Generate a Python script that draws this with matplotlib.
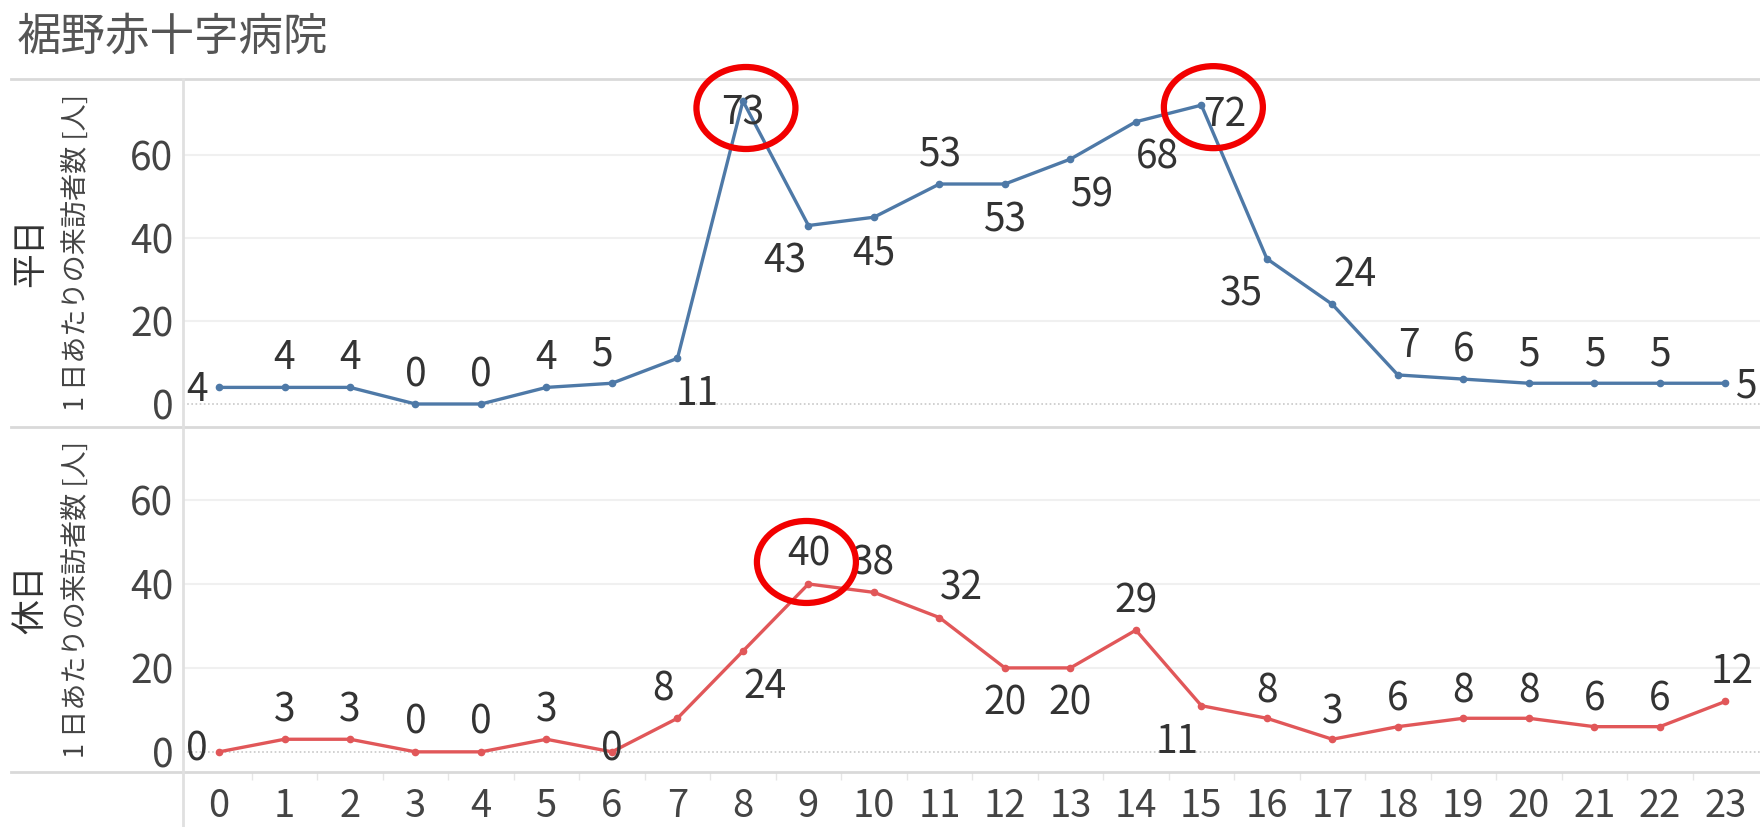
import matplotlib
matplotlib.use('Agg')

import matplotlib.pyplot as plt
from matplotlib.lines import Line2D
from matplotlib.patches import Ellipse
from matplotlib.transforms import IdentityTransform

plt.rcParams['font.family'] = ['Noto Sans CJK JP', 'DejaVu Sans']

# ── Data ─────────────────────────────────────────────────────────────────────
hours    = list(range(24))
weekday  = [4, 4, 4, 0, 0, 4, 5, 11, 73, 43, 45, 53, 53, 59, 68, 72, 35, 24, 7, 6, 5, 5, 5, 5]
holiday  = [0, 3, 3, 0, 0, 3, 0, 8, 24, 40, 38, 32, 20, 20, 29, 11, 8, 3, 6, 8, 8, 6, 6, 12]

title       = '裾野赤十字病院'
row_names   = ['平日', '休日']
axis_title  = '1 日あたりの来訪者数 [人]'
yticks      = [0, 20, 40, 60]

# label offsets in pixels (dx, dy) relative to each point
UP, DOWN = 32, -33
wk_off = [(-22, 0), (0, UP), (0, UP), (0, UP), (0, UP), (0, UP), (-10, UP), (20, DOWN),
          (0, -10), (-24, DOWN), (0, DOWN), (0, UP), (0, DOWN), (21, DOWN), (21, DOWN),
          (23, -7), (-25, DOWN), (23, UP), (11, UP), (0, UP), (0, UP), (0, UP), (0, UP), (20, 0)]
hd_off = [(-22, 5), (0, UP), (0, UP), (0, UP), (0, UP), (0, UP), (0, 5), (-14, UP),
          (22, DOWN), (0, UP), (0, UP), (22, UP), (0, DOWN), (0, DOWN), (0, UP),
          (-24, DOWN), (0, 30), (0, 30), (0, 30), (0, 30), (0, 30), (0, 30), (0, 30), (7, UP)]

# highlighted peaks: (series index, hour, dx, dy) in pixels
highlights = [(0, 8, 3, -7), (0, 15, 12, -2), (1, 9, -2, 22)]

BLUE = '#4e79a7'
RED  = '#e15759'
TXT  = '#333333'
GRID = '#f0f0f0'
SEP  = '#d9d9d9'

W, H = 1760, 827
fig = plt.figure(figsize=(W / 100, H / 100), dpi=100)
fig.patch.set_facecolor('white')

def fx(px):
    return px / W

def fy(py):
    return 1 - py / H

# axes rectangles (pixel coords from the reference)
ax1 = fig.add_axes([fx(183), fy(426), fx(1760 - 183), (426 - 79) / H])
ax2 = fig.add_axes([fx(183), fy(772), fx(1760 - 183), (772 - 427) / H])
axes = [ax1, ax2]
ylims = [(-5.3, 78.3), (-4.8, 77.4)]
series = [weekday, holiday]
colors = [BLUE, RED]
offsets = [wk_off, hd_off]

for i, ax in enumerate(axes):
    ax.set_xlim(-0.55, 23.53)
    ax.set_ylim(*ylims[i])
    for s in ax.spines.values():
        s.set_visible(False)
    ax.set_yticks(yticks)
    for v in yticks[1:]:
        ax.axhline(v, color=GRID, lw=1.5, zorder=0)
    ax.axhline(0, color='#c8c8c8', lw=1.2, ls=(0, (1, 1.5)), zorder=0)
    ax.tick_params(axis='y', length=0, pad=7, labelsize=28, labelcolor='#444444')
    ax.plot(hours, series[i], color=colors[i], lw=2.4, marker='o', ms=4.5,
            zorder=3, solid_joinstyle='round')
    for h, v, (dx, dy) in zip(hours, series[i], offsets[i]):
        ax.annotate(str(v), xy=(h, v), xytext=(dx, dy - 14), textcoords='offset pixels',
                    ha='center', va='baseline', fontsize=28, color=TXT, zorder=4)
    # row header + axis title (x positions in pixels -> axes fraction)
    ax.text((31 - 183) / 1577, 0.5, row_names[i], transform=ax.transAxes, rotation=90,
            ha='center', va='center', fontsize=25, color='#333333')
    ax.text((76 - 183) / 1577, 0.5, axis_title, transform=ax.transAxes, rotation=90,
            ha='center', va='center', fontsize=19.5, color='#444444')

ax1.set_xticks([])
ax2.set_xticks(hours)
ax2.set_xticklabels([str(h) for h in hours])
ax2.tick_params(axis='x', length=0, pad=11, labelsize=27.5, labelcolor='#444444')
ax2.set_xticks([h + 0.5 for h in hours[:-1]], minor=True)
ax2.tick_params(axis='x', which='minor', length=6, width=1, color='#e6e6e6', direction='out')
ax2.spines['bottom'].set_visible(False)

# separators and left rule
for py in [79, 426.5, 772]:
    fig.add_artist(Line2D([fx(11), 1], [fy(py), fy(py)], color=SEP, lw=2,
                          transform=fig.transFigure))
fig.add_artist(Line2D([fx(183), fx(183)], [fy(79), 0], color='#e0e0e0', lw=2,
                      transform=fig.transFigure))

fig.text(fx(17), fy(37), title, ha='left', va='center', fontsize=32, color='#555555')

# red highlight ellipses around the peaks
fig.canvas.draw()
for si, h, dx, dy in highlights:
    ax = axes[si]
    px, py = ax.transData.transform((h, series[si][h]))
    e = Ellipse((px + dx, py + dy), 99, 82, fill=False, edgecolor='#f20000', lw=4.5,
                transform=IdentityTransform(), zorder=10)
    fig.add_artist(e)

plt.savefig('out.png', dpi=100)
